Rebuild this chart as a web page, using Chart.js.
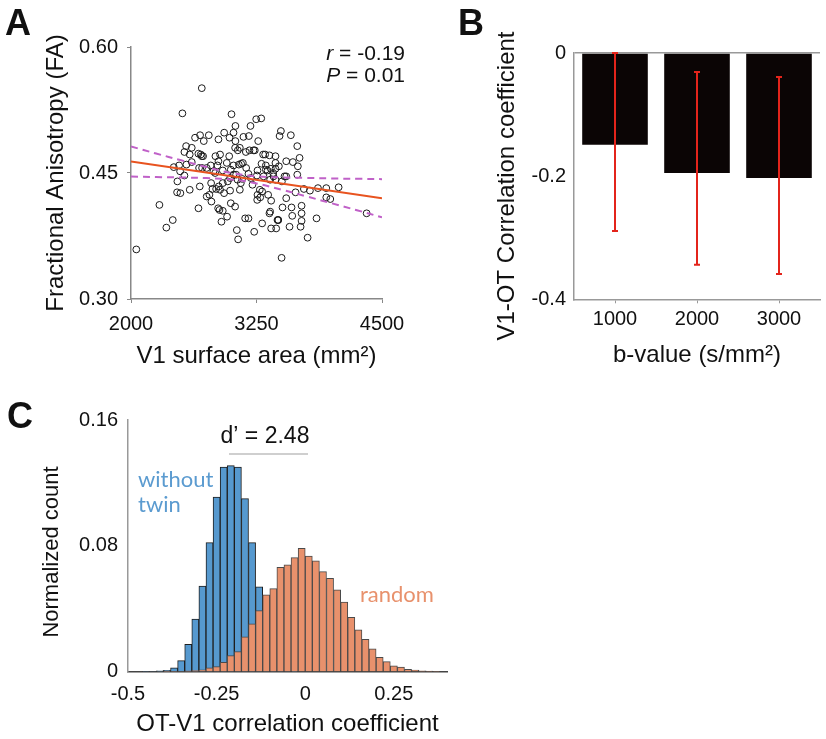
<!DOCTYPE html>
<html>
<head>
<meta charset="utf-8">
<script src="https://cdn.jsdelivr.net/npm/chart.js@4.4.1/dist/chart.umd.min.js"></script>
<style>
  body { margin: 0; background: #fff; }
  #wrap { position: relative; width: 826px; height: 739px; }
  canvas { position: absolute; }
</style>
</head>
<body>
<div id="wrap">
  <canvas id="chartA" width="420" height="380" style="left:0;top:0"></canvas>
  <canvas id="chartB" width="406" height="380" style="left:420px;top:0"></canvas>
  <canvas id="chartC" width="460" height="359" style="left:0;top:380px"></canvas>
</div>
<script>
const FONT = "'Liberation Sans', Arial, sans-serif";
Chart.defaults.font.family = FONT;
Chart.defaults.color = '#111';
Chart.defaults.animation = false;
Chart.defaults.plugins.legend.display = false;
Chart.defaults.plugins.tooltip.enabled = false;

// panel A: V1 surface area vs FA
const saX = [2705,2512,3001,3040,3247,3297,3190,3493,3480,3592,
  2638,2688,2775,2725,2871,2928,2981,3021,3120,3174,
  3267,3040,2549,2605,2532,2585,2671,2705,2695,2841,
  3037,3064,3144,3180,3220,3316,3336,3379,3439,3656,
  3679,3546,3612,3662,3439,3300,3343,3393,3439,3360,
  3416,3529,3439,3656,3546,2426,2479,2489,2532,2605,
  2462,2459,2492,2678,2708,2754,2794,2861,2821,2914,
  2954,2994,3021,3074,3097,3114,3047,3061,3107,3170,
  3194,3210,2987,2964,2914,2874,2848,2887,2811,2798,
  2781,2754,2585,2987,3084,3283,3306,3257,3287,3366,
  3396,3260,2801,2868,2881,2914,2994,3037,2957,2901,
  2672,2283,2416,2352,2053,3137,3170,3054,3067,3227,
  3306,3379,3386,3459,3466,3396,3446,3466,3509,3546,
  3599,3699,3606,3699,3699,3689,3579,3759,3500,3848,
  3639,3722,3782,3862,3945,4068,3945,3985,4347,3386,
  3320,3254,3473,3343,2871,2718,3147,3021,3094,2927,
  2838,2552,2685,2978,2887,3260,3419,3503,3084,3233];
const saY = [0.551,0.521,0.520,0.506,0.514,0.515,0.506,0.500,0.494,0.495,
  0.492,0.495,0.495,0.488,0.490,0.498,0.492,0.498,0.493,0.494,
  0.488,0.488,0.482,0.480,0.475,0.472,0.473,0.470,0.472,0.470,
  0.480,0.477,0.475,0.477,0.477,0.472,0.472,0.471,0.470,0.482,
  0.468,0.464,0.463,0.458,0.462,0.461,0.459,0.455,0.455,0.453,
  0.450,0.446,0.442,0.448,0.446,0.457,0.459,0.452,0.447,0.463,
  0.440,0.427,0.426,0.456,0.456,0.456,0.459,0.459,0.452,0.453,
  0.462,0.454,0.459,0.460,0.461,0.462,0.448,0.442,0.443,0.449,
  0.444,0.436,0.444,0.440,0.438,0.434,0.431,0.430,0.431,0.438,
  0.424,0.422,0.430,0.429,0.430,0.430,0.428,0.418,0.421,0.424,
  0.417,0.424,0.416,0.408,0.406,0.405,0.414,0.410,0.398,0.392,
  0.408,0.412,0.394,0.385,0.359,0.396,0.396,0.382,0.371,0.380,
  0.390,0.402,0.404,0.394,0.394,0.384,0.384,0.394,0.409,0.420,
  0.409,0.411,0.399,0.402,0.393,0.386,0.386,0.373,0.349,0.396,
  0.427,0.431,0.429,0.432,0.432,0.433,0.421,0.419,0.402,0.442,
  0.446,0.447,0.458,0.454,0.464,0.470,0.456,0.448,0.438,0.426,
  0.450,0.460,0.434,0.470,0.472,0.453,0.446,0.440,0.480,0.477];
const fitX = [2000, 4500];
const fitY = [0.4636, 0.4200];
const ciX = [2000, 2250, 2500, 2750, 3000, 3250, 3500, 3750, 4000, 4250, 4500];
const ciUpper = [0.4816, 0.4732, 0.4651, 0.4571, 0.4500, 0.4460, 0.4447, 0.4441, 0.4435, 0.4431, 0.4427];
const ciLower = [0.4457, 0.4452, 0.4447, 0.4439, 0.4424, 0.4376, 0.4301, 0.4221, 0.4139, 0.4057, 0.3973];
const aXTicks = [2000, 3250, 4500];
const aYTicks = [0.30, 0.45, 0.60];

// panel B: correlation per b-value
const bLabels = ['1000', '2000', '3000'];
const bMeans = [-0.149, -0.195, -0.203];
const bErrTop = [0.000, -0.031, -0.039];
const bErrBottom = [-0.289, -0.344, -0.359];
const bYTicks = [0, -0.2, -0.4];

// panel C: histograms
const binCenters = [-0.45,-0.43,-0.41,-0.39,-0.37,-0.35,-0.33,-0.31,-0.29,-0.27,
  -0.25,-0.23,-0.21,-0.19,-0.17,-0.15,-0.13,-0.11,-0.09,-0.07,
  -0.05,-0.03,-0.01,0.01,0.03,0.05,0.07,0.09,0.11,0.13,
  0.15,0.17,0.19,0.21,0.23,0.25,0.27,0.29,0.31,0.33,0.35,0.37];
const withoutTwin = [0.0002,0.0003,0.0005,0.0008,0.0025,0.007,0.0174,0.0335,0.0545,0.082,
  0.111,0.130,0.131,0.130,0.110,0.082,0.054,0.030,0.014,0.005,
  0.002,0.0005,null,null,null,null,null,null,null,null,
  null,null,null,null,null,null,null,null,null,null,null,null];
const randomPairs = [null,null,null,0.0001,0.0002,0.0003,0.0005,0.0007,0.0012,0.0025,
  0.0032,0.006,0.0102,0.0128,0.0222,0.0305,0.0388,0.0488,0.0528,0.0664,
  0.068,0.0725,0.0785,0.0735,0.0705,0.0636,0.0594,0.052,0.0443,0.0346,
  0.0266,0.0205,0.0145,0.0092,0.0064,0.0038,0.0030,0.0015,0.0010,0.0006,0.0004,0.0002];
const cXTicks = [-0.5, -0.25, 0, 0.25];
const cYTicks = [0, 0.08, 0.16];

function textPlugin(id, draw) {
  return { id: id, afterDraw(chart) { const ctx = chart.ctx; ctx.save(); draw(ctx, chart); ctx.restore(); } };
}
function rotText(ctx, text, x, y, font) {
  ctx.save();
  ctx.translate(x, y);
  ctx.rotate(-Math.PI / 2);
  ctx.font = font;
  ctx.fillStyle = '#111';
  ctx.textAlign = 'center';
  ctx.textBaseline = 'middle';
  ctx.fillText(text, 0, 0);
  ctx.restore();
}
function statLine(ctx, italic, rest, xRight, y) {
  ctx.textAlign = 'right';
  ctx.font = '21px ' + FONT;
  ctx.fillText(rest, xRight, y);
  const w = ctx.measureText(rest).width;
  ctx.font = 'italic 21px ' + FONT;
  ctx.fillText(italic, xRight - w, y);
}

// ---------- A ----------
new Chart(document.getElementById('chartA'), {
  type: 'scatter',
  data: {
    datasets: [
      { data: saX.map((x, i) => ({ x: x, y: saY[i] })), pointRadius: 3.4, pointBorderWidth: 1,
        pointBorderColor: '#1a1a1a', pointBackgroundColor: 'rgba(0,0,0,0)', order: 1 },
      { type: 'line', data: fitX.map((x, i) => ({ x: x, y: fitY[i] })), borderColor: '#e8531f',
        borderWidth: 2, pointRadius: 0, order: 0 },
      { type: 'line', data: ciX.map((x, i) => ({ x: x, y: ciUpper[i] })), borderColor: '#c061c8',
        borderWidth: 2, borderDash: [7, 5], pointRadius: 0, tension: 0.4, order: 0 },
      { type: 'line', data: ciX.map((x, i) => ({ x: x, y: ciLower[i] })), borderColor: '#c061c8',
        borderWidth: 2, borderDash: [7, 5], pointRadius: 0, tension: 0.4, order: 0 }
    ]
  },
  options: {
    responsive: false,
    devicePixelRatio: 1,
    layout: { padding: { left: 0, top: 47, right: 38, bottom: 0 } },
    scales: {
      x: {
        type: 'linear', min: 2000, max: 4500,
        afterBuildTicks: s => { s.ticks = aXTicks.map(v => ({ value: v })); },
        afterFit: s => { s.height = 81; },
        ticks: { callback: v => String(v), font: { size: 20 }, padding: 9, maxRotation: 0 },
        grid: { drawOnChartArea: false, tickLength: 4, color: '#888' },
        border: { color: '#888', width: 1.5 },
        title: { display: true, text: 'V1 surface area (mm²)', font: { size: 24 }, padding: { top: 0, bottom: 9.6 } }
      },
      y: {
        min: 0.3, max: 0.6,
        afterBuildTicks: s => { s.ticks = aYTicks.map(v => ({ value: v })); },
        afterFit: s => { s.width = 131; },
        ticks: { callback: v => v.toFixed(2), font: { size: 20 }, padding: 9 },
        grid: { drawOnChartArea: false, tickLength: 4, color: '#888' },
        border: { color: '#888', width: 1.5 },
        title: { display: true, text: 'Fractional Anisotropy (FA)', font: { size: 24 }, padding: { top: 41.6, bottom: 0 } }
      }
    }
  },
  plugins: [textPlugin('textA', ctx => {
    ctx.fillStyle = '#111';
    ctx.textBaseline = 'alphabetic';
    ctx.font = 'bold 36px ' + FONT;
    ctx.textAlign = 'left';
    ctx.fillText('A', 5, 35);
    statLine(ctx, 'r', ' = -0.19', 405, 60);
    statLine(ctx, 'P', ' = 0.01', 405, 82);
  })]
});

// ---------- B ----------
const errorBars = {
  id: 'errorBars',
  afterDatasetsDraw(chart) {
    const ctx = chart.ctx;
    const y = chart.scales.y;
    const meta = chart.getDatasetMeta(0);
    ctx.save();
    ctx.strokeStyle = '#e3241b';
    ctx.lineWidth = 2;
    meta.data.forEach((bar, i) => {
      const yT = y.getPixelForValue(bErrTop[i]);
      const yB = y.getPixelForValue(bErrBottom[i]);
      ctx.beginPath();
      ctx.moveTo(bar.x, yT); ctx.lineTo(bar.x, yB);
      ctx.moveTo(bar.x - 3, yT); ctx.lineTo(bar.x + 3, yT);
      ctx.moveTo(bar.x - 3, yB); ctx.lineTo(bar.x + 3, yB);
      ctx.stroke();
    });
    ctx.restore();
  }
};

new Chart(document.getElementById('chartB'), {
  type: 'bar',
  data: {
    labels: bLabels,
    datasets: [{ data: bMeans, backgroundColor: '#0b0505', barPercentage: 0.8, categoryPercentage: 1 }]
  },
  options: {
    responsive: false,
    devicePixelRatio: 1,
    layout: { padding: { left: 0, top: 53, right: 6, bottom: 0 } },
    scales: {
      x: {
        afterFit: s => { s.height = 80.7; },
        ticks: { font: { size: 20 }, padding: 4, maxRotation: 0 },
        grid: { offset: false, drawOnChartArea: false, tickLength: 4, color: '#999' },
        border: { color: '#999', width: 1.5 },
        title: { display: true, text: 'b-value (s/mm²)', font: { size: 24 }, padding: { top: 0, bottom: 10.6 } }
      },
      y: {
        min: -0.4, max: 0,
        afterBuildTicks: s => { s.ticks = bYTicks.map(v => ({ value: v })); },
        afterFit: s => { s.width = 154; },
        ticks: { font: { size: 20 }, padding: 8 },
        grid: { drawTicks: false, color: c => (c.tick && c.tick.value === 0 ? '#999' : 'rgba(0,0,0,0)'), lineWidth: 1.5 },
        border: { color: '#999', width: 1.5 }
      }
    }
  },
  plugins: [errorBars, textPlugin('textB', ctx => {
    ctx.fillStyle = '#111';
    ctx.textBaseline = 'alphabetic';
    ctx.font = 'bold 36px ' + FONT;
    ctx.textAlign = 'left';
    ctx.fillText('B', 38, 35);
    rotText(ctx, 'V1-OT Correlation coefficient', 87, 186, '24px ' + FONT);
  })]
});

// ---------- C ----------
new Chart(document.getElementById('chartC'), {
  type: 'bar',
  data: {
    datasets: [
      { data: binCenters.map((c, i) => ({ x: c, y: randomPairs[i] })), backgroundColor: '#e8916c',
        borderColor: '#4a4a4a', borderWidth: 1, order: 0 },
      { data: binCenters.map((c, i) => ({ x: c, y: withoutTwin[i] })), backgroundColor: '#5699cf',
        borderColor: '#1e1e1e', borderWidth: 1, order: 1 }
    ]
  },
  options: {
    responsive: false,
    devicePixelRatio: 1,
    layout: { padding: { left: 0, top: 40, right: 13, bottom: 0 } },
    datasets: { bar: { grouped: false, barPercentage: 1, categoryPercentage: 1 } },
    scales: {
      x: {
        type: 'linear', min: -0.5, max: 0.4, offset: false,
        afterBuildTicks: s => { s.ticks = cXTicks.map(v => ({ value: v })); },
        afterFit: s => { s.height = 67.3; },
        ticks: { callback: v => String(v), font: { size: 20 }, padding: 11, maxRotation: 0 },
        grid: { drawOnChartArea: false, drawTicks: false },
        border: { color: '#444', width: 1.5 },
        title: { display: true, text: 'OT-V1 correlation coefficient', font: { size: 24 }, padding: { top: 0, bottom: 0.6 } }
      },
      y: {
        min: 0, max: 0.16,
        afterBuildTicks: s => { s.ticks = cYTicks.map(v => ({ value: v })); },
        afterFit: s => { s.width = 128; },
        ticks: { callback: v => (v === 0 ? '0' : v.toFixed(2)), font: { size: 20 }, padding: 10 },
        grid: { drawOnChartArea: false, drawTicks: false },
        border: { color: '#999', width: 1.5 }
      }
    }
  },
  plugins: [textPlugin('textC', ctx => {
    ctx.fillStyle = '#111';
    ctx.textBaseline = 'alphabetic';
    ctx.font = 'bold 36px ' + FONT;
    ctx.textAlign = 'left';
    ctx.fillText('C', 7, 48);
    rotText(ctx, 'Normalized count', 52, 172, '22px ' + FONT);
    ctx.font = '23px ' + FONT;
    ctx.textAlign = 'center';
    ctx.fillText('d’ = 2.48', 265, 63);
    ctx.strokeStyle = '#cfcfcf';
    ctx.lineWidth = 2;
    ctx.beginPath(); ctx.moveTo(229, 74); ctx.lineTo(308, 74); ctx.stroke();
    ctx.textAlign = 'left';
    ctx.font = '22px Lato, ' + FONT;
    ctx.fillStyle = '#5b9bd0';
    ctx.fillText('without', 138, 107);
    ctx.fillText('twin', 138, 132);
    ctx.fillStyle = '#e8916c';
    ctx.fillText('random', 360, 222);
  })]
});
</script>
</body>
</html>
